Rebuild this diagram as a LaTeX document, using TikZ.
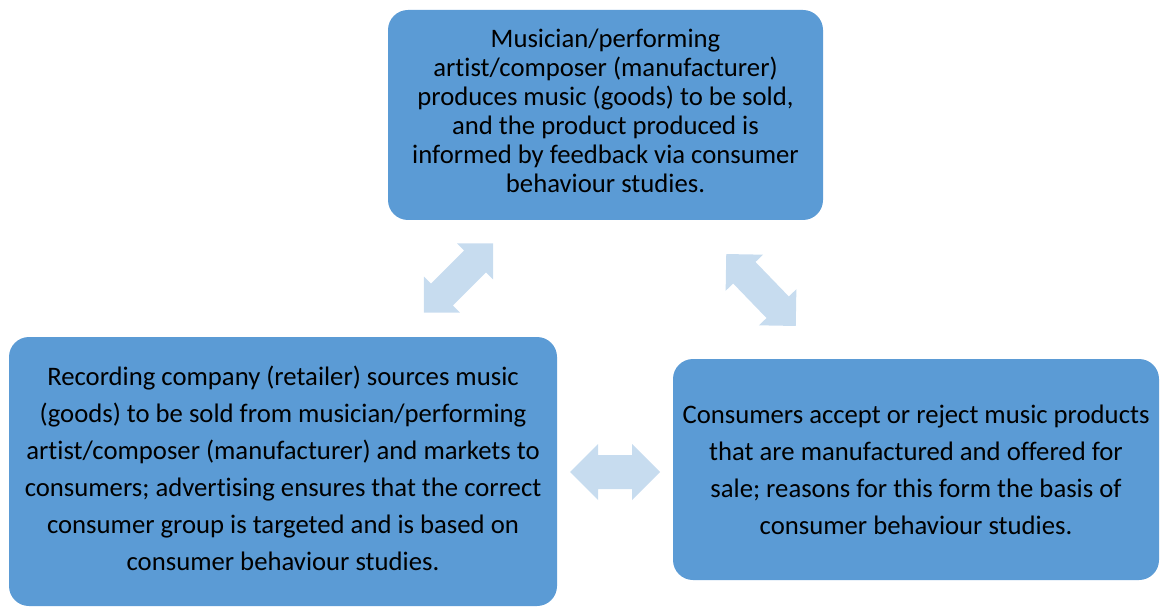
\documentclass[tikz,border=0pt]{standalone}
\usepackage{fontspec}
\setmainfont{Carlito}[Ligatures=NoCommon]
\usepackage{tikz}
\usetikzlibrary{calc}
\definecolor{boxblue}{RGB}{91,155,213}
\definecolor{arrowblue}{RGB}{199,220,239}
\tikzset{
    stage/.style={fill=boxblue,rounded corners=20pt,inner sep=0pt,align=center,
        text=black,font=\fontsize{26.7}{37}\selectfont},
    arrowfill/.style={fill=arrowblue}
}
% double block arrow: centre, angle, half length, head, half shaft
\newcommand{\dblarrow}[5]{%
    \begin{scope}[shift={#1},rotate=#2]
    \fill[arrowfill] (-#3,0) -- ++(#4,#4) -- ++(0,-#4+#5) -- (#3-#4,#5) -- ++(0,#4-#5) -- (#3,0)
        -- ++(-#4,-#4) -- ++(0,#4-#5) -- (-#3+#4,-#5) -- ++(0,-#4+#5) -- cycle;
    \end{scope}}

\begin{document}
\begin{tikzpicture}[x=1pt,y=1pt]
\useasboundingbox (0,0) rectangle (1161,606);
\node[stage,minimum width=435pt,minimum height=210pt,text depth=9pt,font=\fontsize{26.7}{29}\selectfont] (artist) at (605.5,491)
    {Musician/performing\\artist/composer (manufacturer)\\produces music (goods) to be sold,\\and the product produced is\\informed by feedback via consumer\\behaviour studies.};
\node[stage,minimum width=548pt,minimum height=269pt,text depth=6pt] (label) at (283,134.5)
    {Recording company (retailer) sources music\\(goods) to be sold from musician/performing\\artist/composer (manufacturer) and markets to\\consumers; advertising ensures that the correct\\consumer group is targeted and is based on\\consumer behaviour studies.};
\node[stage,minimum width=486pt,minimum height=221pt] (consumers) at (916,136.5)
    {Consumers accept or reject music products\\that are manufactured and offered for\\sale; reasons for this form the basis of\\consumer behaviour studies.};
\dblarrow{(458.5,328)}{45}{49}{25.5}{15.5}
\dblarrow{(761,316)}{-46}{50}{26}{15.5}
\dblarrow{(615,134)}{0}{45}{28}{17}
\end{tikzpicture}
\end{document}
